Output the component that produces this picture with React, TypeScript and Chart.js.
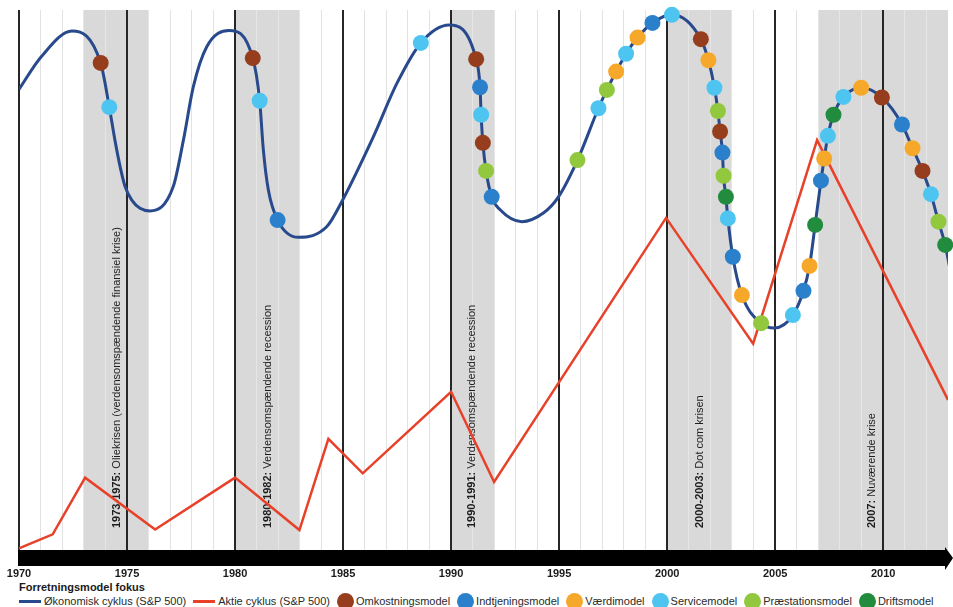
import React, { useEffect, useRef } from "react";
import { Chart, registerables } from "chart.js";

Chart.register(...registerables);

const FONT = "'Liberation Sans', Arial, Helvetica, sans-serif";

// X range (years)
const X_MIN = 1970;
const X_MAX = 2013;
const TICK_YEARS = [1970, 1975, 1980, 1985, 1990, 1995, 2000, 2005, 2010];

// Økonomisk cyklus (S&P 500) – smooth curve, and model focus per point ("" = plain curve point)
const ECON_YEARS = [
  1970.0, 1971.02, 1972.45, 1973.78, 1974.18, 1974.44, 1974.68, 1974.91, 1975.22, 1975.6, 1976.06,
  1977.14, 1977.61,
  1978.07, 1978.69, 1979.72, 1980.82, 1981.14, 1981.31, 1981.54, 1981.97, 1982.94, 1984.25,
  1984.94, 1986.4, 1987.49, 1988.6, 1989.91, 1991.16, 1991.34, 1991.39, 1991.47, 1991.62,
  1991.88, 1992.27, 1993.27, 1994.27, 1994.97, 1995.85, 1996.82, 1997.21, 1997.64, 1998.1,
  1998.63, 1999.32, 2000.22, 2001.56, 2001.91, 2002.19, 2002.35, 2002.45, 2002.56, 2002.61,
  2002.72, 2002.81, 2003.04, 2003.46, 2004.35, 2004.95, 2005.82, 2006.31, 2006.59, 2006.85,
  2007.12, 2007.27, 2007.44, 2007.7, 2008.16, 2008.98, 2009.94, 2010.87, 2011.36, 2011.82,
  2012.21, 2012.56, 2012.87, 2013.07,
];
const ECON_VALUES = [
  85.3, 91.3, 96.1, 90.2, 82.0, 75.9, 71.0, 67.3, 64.8, 63.3, 62.8,
  67.3, 75.9,
  85.8, 93.2, 96.2, 91.1, 83.2, 74.1, 66.7, 61.1, 57.9, 59.9,
  64.5, 76.5, 86.4, 93.9, 97.2, 90.9, 85.7, 80.6, 75.4, 70.2,
  65.4, 63.0, 60.8, 62.4, 65.4, 72.2, 81.8, 85.2, 88.6, 91.9,
  94.9, 97.6, 99.1, 94.6, 90.7, 85.6, 81.3, 77.5, 73.6, 69.3,
  65.4, 61.4, 54.3, 47.2, 42.0, 41.1, 43.5, 48.0, 52.6, 60.2,
  68.4, 72.5, 76.7, 80.6, 83.9, 85.6, 83.8, 78.8, 74.4, 70.2,
  65.9, 60.8, 56.5, 52.5,
];
const ECON_MODEL = [
  "", "", "", "O", "S", "", "", "", "", "", "",
  "", "",
  "", "", "", "O", "S", "", "", "I", "", "",
  "", "", "", "S", "", "O", "I", "S", "O", "P",
  "I", "", "", "", "", "P", "S", "P", "V", "S",
  "V", "I", "S", "O", "V", "S", "P", "O", "I", "P",
  "D", "S", "I", "V", "P", "", "S", "I", "V", "D",
  "I", "V", "S", "D", "S", "V", "O", "I", "V", "O",
  "S", "P", "D", "",
];

// Aktie cyklus (S&P 500) – straight segments
const STOCK_YEARS = [1970.0, 1971.56, 1973.06, 1976.3, 1980.0, 1982.98, 1984.32, 1985.91, 1990.0, 1991.99, 1999.95, 2003.98, 2006.94, 2013.0];
const STOCK_VALUES = [0.3, 2.9, 13.4, 3.8, 13.4, 3.7, 20.6, 14.2, 29.3, 12.6, 61.5, 38.2, 75.9, 27.8];

// Business model focus categories
const MODEL_CODES = ["O", "I", "V", "S", "P", "D"];
const MODEL_NAMES = ["Omkostningsmodel", "Indtjeningsmodel", "Værdimodel", "Servicemodel", "Præstationsmodel", "Driftsmodel"];
const MODEL_COLORS = ["#953d1c", "#2b80cb", "#f6a82a", "#4ec5f1", "#92c83e", "#218c3d"];

// Crisis periods (shaded)
const CRISIS_START = [1973, 1980, 1990, 2000, 2007];
const CRISIS_END = [1976, 1983, 1992, 2003, 2013];
const CRISIS_LABEL_YEAR = [1974.54, 1981.53, 1990.97, 2001.53, 2009.49];
const CRISIS_PERIOD = ["1973-1975:", "1980-1982:", "1990-1991:", "2000-2003:", "2007:"];
const CRISIS_TEXT = [
  " Oliekrisen (verdensomspændende finansiel krise)",
  " Verdensomspændende recession",
  " Verdensomspændende recession",
  " Dot com krisen",
  " Nuværende krise",
];

const ECON_COLOR = "#284a8c";
const STOCK_COLOR = "#e8412a";
const BAND_COLOR = "#d9d9d9";

const inBand = (v: number) => CRISIS_START.some((s, i) => v >= s && v <= CRISIS_END[i]);

const bandsPlugin = {
  id: "bands",
  beforeDraw(chart: any) {
    const { ctx, chartArea } = chart;
    const xs = chart.scales.x;
    ctx.save();
    ctx.fillStyle = BAND_COLOR;
    CRISIS_START.forEach((s, i) => {
      const x0 = Math.max(xs.getPixelForValue(s), chartArea.left);
      const x1 = Math.min(xs.getPixelForValue(CRISIS_END[i]), chartArea.right);
      ctx.fillRect(x0, chartArea.top, x1 - x0, chartArea.bottom - chartArea.top);
    });
    ctx.restore();
  },
  beforeDatasetsDraw(chart: any) {
    const { ctx, chartArea } = chart;
    const xs = chart.scales.x;
    ctx.save();
    ctx.fillStyle = "#1e1e1e";
    ctx.textBaseline = "middle";
    ctx.textAlign = "left";
    CRISIS_LABEL_YEAR.forEach((yr, i) => {
      const x = xs.getPixelForValue(yr);
      const y = chartArea.bottom - 22;
      ctx.save();
      ctx.translate(x, y);
      ctx.rotate(-Math.PI / 2);
      ctx.font = `bold 11px ${FONT}`;
      ctx.fillText(CRISIS_PERIOD[i], 0, 0);
      const w = ctx.measureText(CRISIS_PERIOD[i]).width;
      ctx.font = `11px ${FONT}`;
      ctx.fillText(CRISIS_TEXT[i], w, 0);
      ctx.restore();
    });
    ctx.restore();
  },
  afterDraw(chart: any) {
    const { ctx, chartArea } = chart;
    const w = chart.width;
    const top = chartArea.bottom;
    ctx.save();
    ctx.fillStyle = "#000";
    ctx.fillRect(chartArea.left - 1, top, w - 8 - (chartArea.left - 1), 16);
    ctx.beginPath();
    ctx.moveTo(w - 8, top - 3);
    ctx.lineTo(w, top + 8);
    ctx.lineTo(w - 8, top + 20);
    ctx.closePath();
    ctx.fill();
    ctx.restore();
  },
};

function ChartCanvas() {
  const ref = useRef<HTMLCanvasElement | null>(null);
  useEffect(() => {
    if (!ref.current) return;
    const econ = ECON_YEARS.map((x, i) => ({ x, y: ECON_VALUES[i] }));
    const stock = STOCK_YEARS.map((x, i) => ({ x, y: STOCK_VALUES[i] }));
    const dotSets = MODEL_CODES.map((code, k) => ({
      type: "line" as const,
      label: MODEL_NAMES[k],
      data: ECON_YEARS.map((x, i) => ({ x, y: ECON_VALUES[i], m: ECON_MODEL[i] }))
        .filter((p) => p.m === code)
        .map((p) => ({ x: p.x, y: p.y })),
      showLine: false,
      pointRadius: 8,
      pointHoverRadius: 8,
      pointBackgroundColor: MODEL_COLORS[k],
      pointBorderColor: MODEL_COLORS[k],
      pointBorderWidth: 0,
      borderColor: MODEL_COLORS[k],
      backgroundColor: MODEL_COLORS[k],
      clip: false as any,
      order: 0,
    }));
    const gridYears: number[] = [];
    for (let y = X_MIN; y < X_MAX; y++) gridYears.push(y);

    const chart = new Chart(ref.current, {
      type: "line",
      data: {
        datasets: [
          ...dotSets,
          {
            label: "Økonomisk cyklus (S&P 500)",
            data: econ,
            borderColor: ECON_COLOR,
            backgroundColor: ECON_COLOR,
            borderWidth: 3,
            pointRadius: 0,
            cubicInterpolationMode: "monotone",
            order: 1,
          },
          {
            label: "Aktie cyklus (S&P 500)",
            data: stock,
            borderColor: STOCK_COLOR,
            backgroundColor: STOCK_COLOR,
            borderWidth: 2.5,
            pointRadius: 0,
            tension: 0,
            order: 2,
          },
        ] as any,
      },
      options: {
        animation: false,
        responsive: false,
        events: [],
        layout: { autoPadding: false, padding: { left: 19, right: 5, top: 10, bottom: 0 } },
        plugins: { legend: { display: false }, tooltip: { enabled: false } },
        scales: {
          x: {
            type: "linear",
            min: X_MIN,
            max: X_MAX,
            border: { display: false },
            afterBuildTicks: (scale: any) => {
              scale.ticks = gridYears.map((v) => ({ value: v }));
            },
            afterFit: (scale: any) => {
              scale.height = 30;
              scale.paddingLeft = 0;
              scale.paddingRight = 0;
            },
            grid: {
              drawTicks: false,
              color: (c: any) => {
                const v = c.tick ? c.tick.value : 0;
                if (v % 5 === 0) return "#262626";
                return inBand(v) ? "#e6e6e6" : "#e2e2e2";
              },
              lineWidth: (c: any) => {
                const v = c.tick ? c.tick.value : 0;
                return v % 5 === 0 ? 2 : 1;
              },
            },
            ticks: {
              autoSkip: false,
              maxRotation: 0,
              padding: 17,
              color: "#1a1a1a",
              font: { family: FONT, size: 11, weight: "bold" },
              callback: (v: any) => (TICK_YEARS.includes(Number(v)) ? String(v) : ""),
            },
          },
          y: { type: "linear", min: 0, max: 100, display: false },
        },
      } as any,
      plugins: [bandsPlugin],
    });
    return () => chart.destroy();
  }, []);
  return <canvas ref={ref} width={953} height={580} style={{ display: "block" }} />;
}

function Legend() {
  const txt: React.CSSProperties = { fontFamily: FONT, fontSize: 11, color: "#2a2a2a", whiteSpace: "nowrap" };
  const item: React.CSSProperties = { display: "inline-flex", alignItems: "center", marginRight: 7 };
  return (
    <div style={{ position: "absolute", left: 19, top: 580, width: 934 }}>
      <div style={{ ...txt, fontWeight: "bold", lineHeight: "14px", height: 14, color: "#1a1a1a" }}>Forretningsmodel fokus</div>
      <div style={{ display: "flex", alignItems: "center", height: 14, lineHeight: "14px" }}>
        <span style={item}>
          <span style={{ width: 22, height: 3, background: ECON_COLOR, marginRight: 3, display: "inline-block" }} />
          <span style={txt}>Økonomisk cyklus (S&amp;P 500)</span>
        </span>
        <span style={item}>
          <span style={{ width: 22, height: 3, background: STOCK_COLOR, marginRight: 3, display: "inline-block" }} />
          <span style={txt}>Aktie cyklus (S&amp;P 500)</span>
        </span>
        {MODEL_NAMES.map((n, k) => (
          <span key={n} style={item}>
            <span
              style={{ width: 17, height: 17, borderRadius: "50%", background: MODEL_COLORS[k], marginRight: 2, display: "inline-block" }}
            />
            <span style={txt}>{n}</span>
          </span>
        ))}
      </div>
    </div>
  );
}

export default function App() {
  return (
    <div style={{ position: "absolute", left: 0, top: 0, width: 953, height: 607, background: "#fff", overflow: "hidden" }}>
      <ChartCanvas />
      <Legend />
    </div>
  );
}
